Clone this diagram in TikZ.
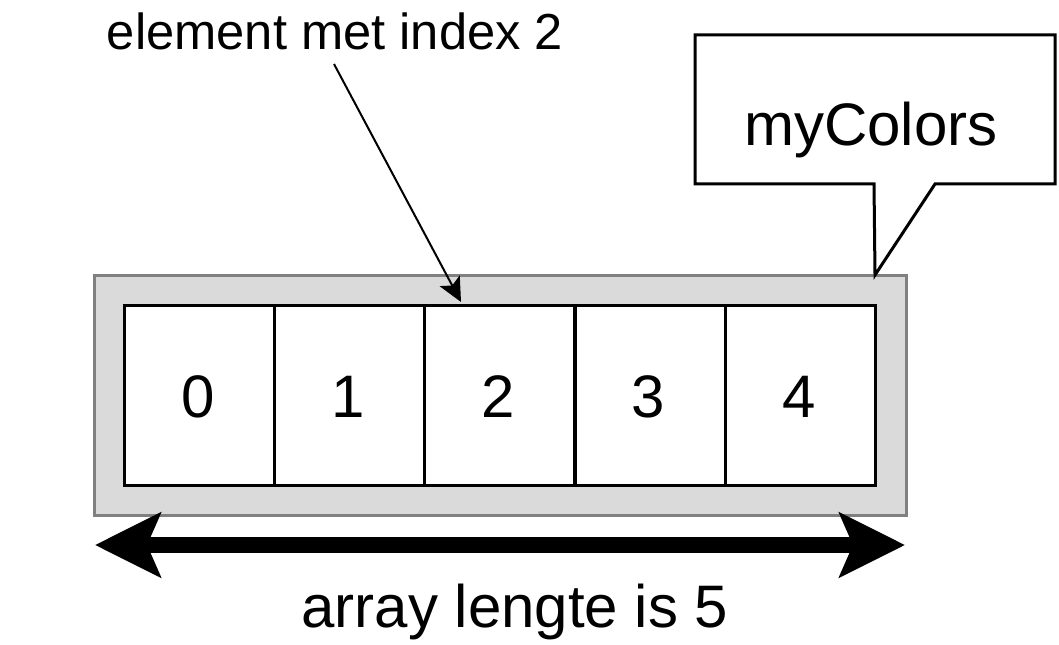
\documentclass[tikz,border=0pt]{standalone}
\usepackage{fontspec}
\setmainfont{Liberation Sans}
\usetikzlibrary{arrows.meta}
\definecolor{boxgray}{HTML}{DADADA}
\definecolor{edgegray}{HTML}{808080}
\tikzset{
  cellbox/.style={draw=black, fill=white, line width=2.25pt, minimum width=112.5pt, minimum height=135pt, inner sep=0pt, anchor=north west},
  bigtxt/.style={font=\fontsize{45}{54}\selectfont, inner sep=0pt, anchor=base},
  midtxt/.style={font=\fontsize{38}{46}\selectfont, inner sep=0pt, anchor=base},
}
\begin{document}
\begin{tikzpicture}[x=0.75pt, y=-0.75pt]
\useasboundingbox (0,0) rectangle (1059,645);
% outer gray array box
\node[draw=edgegray, fill=boxgray, line width=2.25pt, minimum width=609pt, minimum height=180pt, inner sep=0pt, anchor=north west] (arr) at (93,274) {};
% cells
\foreach \i/\x in {0/123,1/273.2,2/423.4,3/573.6,4/723.8}{
  \node[cellbox] (c\i) at (\x,304) {};
  \node[bigtxt] (t\i) at ([xshift=56.25pt]\x,417) {\i};
}
% callout
\draw[line width=2.25pt, fill=white, line join=miter] (695,35) -- (1055,35) -- (1055,184) -- (935,184) -- (875,275) -- (874,184) -- (695,184) -- cycle;
\node[bigtxt] (lbl) at (871,146) {myColors};
% element label and arrow
\node[midtxt] (el) at (335,50) {element met index 2};
\coordinate (elA) at (334,64);
\coordinate (elB) at (461,302);
\draw[line width=1.5pt, -{Stealth[length=18pt, width=17pt, inset=4pt]}] (elA) -- (elB);
% length arrow
\coordinate (la) at (95,545);
\coordinate (lb) at (905,545);
\draw[line width=11.5pt, {Stealth[length=49pt, width=48pt, inset=10pt]}-{Stealth[length=49pt, width=48pt, inset=10pt]}] (la) -- (lb);
\node[bigtxt] (len) at (515,627) {array lengte is 5};
\end{tikzpicture}
\end{document}
